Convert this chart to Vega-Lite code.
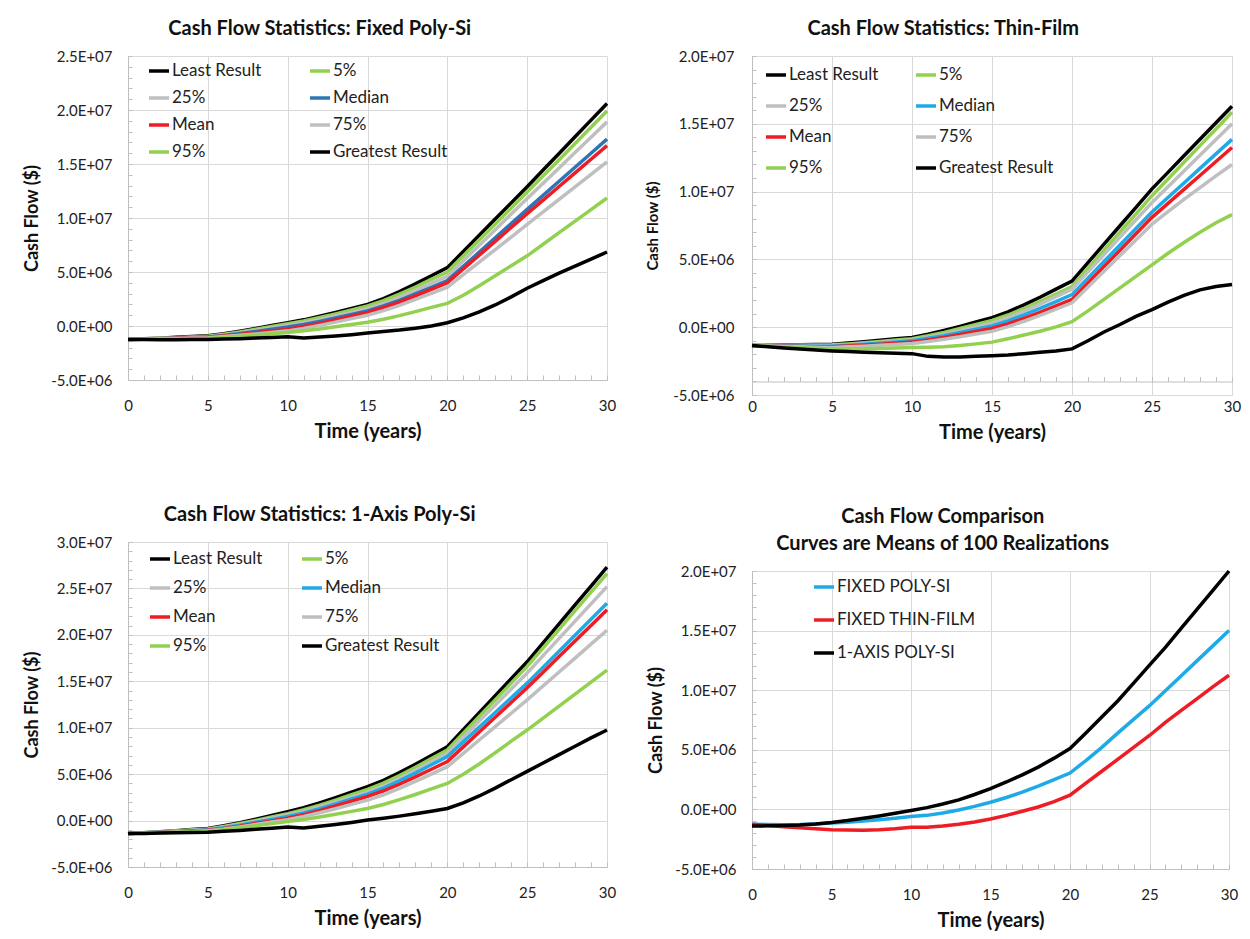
{
  "$schema": "https://vega.github.io/schema/vega-lite/v6.json",
  "background": "white",
  "padding": {"left": 23, "top": 19, "right": 5, "bottom": 5},
  "spacing": 29,
  "resolve": {"scale": {"color": "independent"}},
  "config": {
    "font": "Lato",
    "view": {"stroke": null},
    "axis": {"labelFont": "Lato", "labelFontSize": 15, "labelColor": "#222", "titleFont": "Lato", "titleFontWeight": "bold", "titleColor": "#111", "gridColor": "#d9d9d9", "domainColor": "#bfbfbf", "tickColor": "#bfbfbf", "labelOverlap": false, "labelFlush": false, "labelBound": false},
    "title": {"font": "Lato", "fontSize": 20, "fontWeight": "bold", "color": "#111", "frame": "bounds", "anchor": "middle", "offset": 10},
    "legend": {"labelFont": "Lato", "labelFontSize": 17, "labelColor": "#222", "symbolType": "stroke", "symbolStrokeWidth": 4, "symbolSize": 400, "labelOffset": 1, "orient": "none", "title": null, "direction": "horizontal"},
    "line": {"strokeWidth": 3.5}
  },
  "datasets": {
    "tl": [
      {"t":0,"Least Result":-1.25e6,"5%":-1.25e6,"25%":-1.25e6,"Median":-1.25e6,"Mean":-1.25e6,"75%":-1.25e6,"95%":-1.25e6,"Greatest Result":-1.25e6},
      {"t":1,"Least Result":-1.19e6,"5%":-1.20e6,"25%":-1.21e6,"Median":-1.21e6,"Mean":-1.22e6,"75%":-1.22e6,"95%":-1.23e6,"Greatest Result":-1.26e6},
      {"t":2,"Least Result":-1.13e6,"5%":-1.145e6,"25%":-1.16e6,"Median":-1.17e6,"Mean":-1.18e6,"75%":-1.19e6,"95%":-1.215e6,"Greatest Result":-1.27e6},
      {"t":3,"Least Result":-1.05e6,"5%":-1.08e6,"25%":-1.11e6,"Median":-1.12e6,"Mean":-1.14e6,"75%":-1.155e6,"95%":-1.195e6,"Greatest Result":-1.27e6},
      {"t":4,"Least Result":-0.98e6,"5%":-1.02e6,"25%":-1.055e6,"Median":-1.07e6,"Mean":-1.09e6,"75%":-1.12e6,"95%":-1.17e6,"Greatest Result":-1.26e6},
      {"t":5,"Least Result":-0.9e6,"5%":-0.95e6,"25%":-1.0e6,"Median":-1.02e6,"Mean":-1.05e6,"75%":-1.08e6,"95%":-1.15e6,"Greatest Result":-1.25e6},
      {"t":6,"Least Result":-0.71e6,"5%":-0.77e6,"25%":-0.83e6,"Median":-0.87e6,"Mean":-0.93e6,"75%":-0.98e6,"95%":-1.06e6,"Greatest Result":-1.21e6},
      {"t":7,"Least Result":-0.48e6,"5%":-0.55e6,"25%":-0.63e6,"Median":-0.70e6,"Mean":-0.79e6,"75%":-0.86e6,"95%":-0.96e6,"Greatest Result":-1.17e6},
      {"t":8,"Least Result":-0.23e6,"5%":-0.31e6,"25%":-0.41e6,"Median":-0.50e6,"Mean":-0.63e6,"75%":-0.73e6,"95%":-0.84e6,"Greatest Result":-1.12e6},
      {"t":9,"Least Result":0.04e6,"5%":-0.05e6,"25%":-0.18e6,"Median":-0.30e6,"Mean":-0.47e6,"75%":-0.59e6,"95%":-0.72e6,"Greatest Result":-1.06e6},
      {"t":10,"Least Result":0.3e6,"5%":0.2e6,"25%":0.05e6,"Median":-0.1e6,"Mean":-0.3e6,"75%":-0.45e6,"95%":-0.6e6,"Greatest Result":-1.0e6},
      {"t":11,"Least Result":0.57e6,"5%":0.46e6,"25%":0.30e6,"Median":0.14e6,"Mean":-0.05e6,"75%":-0.22e6,"95%":-0.45e6,"Greatest Result":-1.12e6},
      {"t":12,"Least Result":0.90e6,"5%":0.78e6,"25%":0.59e6,"Median":0.43e6,"Mean":0.24e6,"75%":0.06e6,"95%":-0.27e6,"Greatest Result":-1.02e6},
      {"t":13,"Least Result":1.25e6,"5%":1.12e6,"25%":0.92e6,"Median":0.74e6,"Mean":0.57e6,"75%":0.36e6,"95%":-0.07e6,"Greatest Result":-0.92e6},
      {"t":14,"Least Result":1.63e6,"5%":1.49e6,"25%":1.26e6,"Median":1.07e6,"Mean":0.91e6,"75%":0.68e6,"95%":0.14e6,"Greatest Result":-0.8e6},
      {"t":15,"Least Result":2.0e6,"5%":1.85e6,"25%":1.6e6,"Median":1.4e6,"Mean":1.25e6,"75%":1.0e6,"95%":0.35e6,"Greatest Result":-0.65e6},
      {"t":16,"Least Result":2.54e6,"5%":2.35e6,"25%":2.08e6,"Median":1.85e6,"Mean":1.69e6,"75%":1.42e6,"95%":0.63e6,"Greatest Result":-0.52e6},
      {"t":17,"Least Result":3.19e6,"5%":2.95e6,"25%":2.65e6,"Median":2.38e6,"Mean":2.21e6,"75%":1.91e6,"95%":0.96e6,"Greatest Result":-0.38e6},
      {"t":18,"Least Result":3.90e6,"5%":3.61e6,"25%":3.28e6,"Median":2.97e6,"Mean":2.79e6,"75%":2.46e6,"95%":1.33e6,"Greatest Result":-0.2e6},
      {"t":19,"Least Result":4.65e6,"5%":4.31e6,"25%":3.94e6,"Median":3.58e6,"Mean":3.40e6,"75%":3.03e6,"95%":1.72e6,"Greatest Result":0.0},
      {"t":20,"Least Result":5.4e6,"5%":5.0e6,"25%":4.6e6,"Median":4.2e6,"Mean":4.0e6,"75%":3.6e6,"95%":2.1e6,"Greatest Result":0.3e6},
      {"t":21,"Least Result":6.9e6,"5%":6.48e6,"25%":6.04e6,"Median":5.52e6,"Mean":5.28e6,"75%":4.76e6,"95%":2.85e6,"Greatest Result":0.75e6},
      {"t":22,"Least Result":8.4e6,"5%":7.96e6,"25%":7.48e6,"Median":6.84e6,"Mean":6.56e6,"75%":5.92e6,"95%":3.73e6,"Greatest Result":1.3e6},
      {"t":23,"Least Result":9.9e6,"5%":9.44e6,"25%":8.92e6,"Median":8.16e6,"Mean":7.84e6,"75%":7.08e6,"95%":4.65e6,"Greatest Result":1.95e6},
      {"t":24,"Least Result":11.4e6,"5%":10.92e6,"25%":10.36e6,"Median":9.48e6,"Mean":9.12e6,"75%":8.24e6,"95%":5.58e6,"Greatest Result":2.7e6},
      {"t":25,"Least Result":12.9e6,"5%":12.4e6,"25%":11.8e6,"Median":10.8e6,"Mean":10.4e6,"75%":9.4e6,"95%":6.5e6,"Greatest Result":3.5e6},
      {"t":26,"Least Result":14.44e6,"5%":13.9e6,"25%":13.22e6,"Median":12.1e6,"Mean":11.66e6,"75%":10.56e6,"95%":7.57e6,"Greatest Result":4.2e6},
      {"t":27,"Least Result":15.98e6,"5%":15.4e6,"25%":14.64e6,"Median":13.4e6,"Mean":12.92e6,"75%":11.72e6,"95%":8.64e6,"Greatest Result":4.9e6},
      {"t":28,"Least Result":17.52e6,"5%":16.9e6,"25%":16.06e6,"Median":14.7e6,"Mean":14.18e6,"75%":12.88e6,"95%":9.71e6,"Greatest Result":5.55e6},
      {"t":29,"Least Result":19.06e6,"5%":18.4e6,"25%":17.48e6,"Median":16.0e6,"Mean":15.44e6,"75%":14.04e6,"95%":10.78e6,"Greatest Result":6.2e6},
      {"t":30,"Least Result":20.6e6,"5%":19.9e6,"25%":18.9e6,"Median":17.3e6,"Mean":16.7e6,"75%":15.2e6,"95%":11.85e6,"Greatest Result":6.85e6}
    ],
    "tr": [
      {"t":0,"Least Result":-1.35e6,"5%":-1.35e6,"25%":-1.35e6,"Median":-1.35e6,"Mean":-1.35e6,"75%":-1.35e6,"95%":-1.35e6,"Greatest Result":-1.35e6},
      {"t":1,"Least Result":-1.34e6,"5%":-1.34e6,"25%":-1.36e6,"Median":-1.37e6,"Mean":-1.38e6,"75%":-1.39e6,"95%":-1.41e6,"Greatest Result":-1.45e6},
      {"t":2,"Least Result":-1.32e6,"5%":-1.33e6,"25%":-1.37e6,"Median":-1.38e6,"Mean":-1.40e6,"75%":-1.42e6,"95%":-1.46e6,"Greatest Result":-1.53e6},
      {"t":3,"Least Result":-1.30e6,"5%":-1.32e6,"25%":-1.37e6,"Median":-1.39e6,"Mean":-1.42e6,"75%":-1.45e6,"95%":-1.51e6,"Greatest Result":-1.61e6},
      {"t":4,"Least Result":-1.27e6,"5%":-1.31e6,"25%":-1.36e6,"Median":-1.40e6,"Mean":-1.44e6,"75%":-1.48e6,"95%":-1.56e6,"Greatest Result":-1.68e6},
      {"t":5,"Least Result":-1.25e6,"5%":-1.30e6,"25%":-1.35e6,"Median":-1.40e6,"Mean":-1.45e6,"75%":-1.50e6,"95%":-1.60e6,"Greatest Result":-1.75e6},
      {"t":6,"Least Result":-1.17e6,"5%":-1.23e6,"25%":-1.29e6,"Median":-1.34e6,"Mean":-1.39e6,"75%":-1.45e6,"95%":-1.60e6,"Greatest Result":-1.80e6},
      {"t":7,"Least Result":-1.08e6,"5%":-1.14e6,"25%":-1.21e6,"Median":-1.26e6,"Mean":-1.33e6,"75%":-1.40e6,"95%":-1.59e6,"Greatest Result":-1.84e6},
      {"t":8,"Least Result":-0.97e6,"5%":-1.05e6,"25%":-1.13e6,"Median":-1.18e6,"Mean":-1.25e6,"75%":-1.33e6,"95%":-1.57e6,"Greatest Result":-1.88e6},
      {"t":9,"Least Result":-0.86e6,"5%":-0.95e6,"25%":-1.04e6,"Median":-1.09e6,"Mean":-1.18e6,"75%":-1.27e6,"95%":-1.54e6,"Greatest Result":-1.92e6},
      {"t":10,"Least Result":-0.75e6,"5%":-0.85e6,"25%":-0.95e6,"Median":-1.0e6,"Mean":-1.1e6,"75%":-1.2e6,"95%":-1.5e6,"Greatest Result":-1.95e6},
      {"t":11,"Least Result":-0.52e6,"5%":-0.63e6,"25%":-0.75e6,"Median":-0.82e6,"Mean":-0.94e6,"75%":-1.06e6,"95%":-1.48e6,"Greatest Result":-2.15e6},
      {"t":12,"Least Result":-0.24e6,"5%":-0.38e6,"25%":-0.51e6,"Median":-0.62e6,"Mean":-0.75e6,"75%":-0.89e6,"95%":-1.45e6,"Greatest Result":-2.2e6},
      {"t":13,"Least Result":0.06e6,"5%":-0.09e6,"25%":-0.25e6,"Median":-0.38e6,"Mean":-0.54e6,"75%":-0.70e6,"95%":-1.35e6,"Greatest Result":-2.2e6},
      {"t":14,"Least Result":0.38e6,"5%":0.20e6,"25%":0.03e6,"Median":-0.14e6,"Mean":-0.32e6,"75%":-0.50e6,"95%":-1.23e6,"Greatest Result":-2.15e6},
      {"t":15,"Least Result":0.7e6,"5%":0.5e6,"25%":0.3e6,"Median":0.1e6,"Mean":-0.1e6,"75%":-0.3e6,"95%":-1.1e6,"Greatest Result":-2.1e6},
      {"t":16,"Least Result":1.13e6,"5%":0.9e6,"25%":0.7e6,"Median":0.47e6,"Mean":0.24e6,"75%":0.04e6,"95%":-0.85e6,"Greatest Result":-2.05e6},
      {"t":17,"Least Result":1.65e6,"5%":1.38e6,"25%":1.18e6,"Median":0.91e6,"Mean":0.65e6,"75%":0.44e6,"95%":-0.58e6,"Greatest Result":-1.95e6},
      {"t":18,"Least Result":2.21e6,"5%":1.9e6,"25%":1.7e6,"Median":1.39e6,"Mean":1.1e6,"75%":0.88e6,"95%":-0.3e6,"Greatest Result":-1.85e6},
      {"t":19,"Least Result":2.81e6,"5%":2.45e6,"25%":2.25e6,"Median":1.89e6,"Mean":1.58e6,"75%":1.34e6,"95%":0.02e6,"Greatest Result":-1.75e6},
      {"t":20,"Least Result":3.4e6,"5%":3.0e6,"25%":2.8e6,"Median":2.4e6,"Mean":2.05e6,"75%":1.8e6,"95%":0.4e6,"Greatest Result":-1.6e6},
      {"t":21,"Least Result":4.76e6,"5%":4.34e6,"25%":4.08e6,"Median":3.62e6,"Mean":3.26e6,"75%":2.96e6,"95%":1.2e6,"Greatest Result":-1.0e6},
      {"t":22,"Least Result":6.12e6,"5%":5.68e6,"25%":5.36e6,"Median":4.84e6,"Mean":4.47e6,"75%":4.12e6,"95%":2.05e6,"Greatest Result":-0.35e6},
      {"t":23,"Least Result":7.48e6,"5%":7.02e6,"25%":6.64e6,"Median":6.06e6,"Mean":5.68e6,"75%":5.28e6,"95%":2.9e6,"Greatest Result":0.2e6},
      {"t":24,"Least Result":8.84e6,"5%":8.36e6,"25%":7.92e6,"Median":7.28e6,"Mean":6.89e6,"75%":6.44e6,"95%":3.75e6,"Greatest Result":0.8e6},
      {"t":25,"Least Result":10.2e6,"5%":9.7e6,"25%":9.2e6,"Median":8.5e6,"Mean":8.1e6,"75%":7.6e6,"95%":4.6e6,"Greatest Result":1.3e6},
      {"t":26,"Least Result":11.42e6,"5%":10.93e6,"25%":10.36e6,"Median":9.57e6,"Mean":9.13e6,"75%":8.52e6,"95%":5.45e6,"Greatest Result":1.85e6},
      {"t":27,"Least Result":12.64e6,"5%":12.16e6,"25%":11.52e6,"Median":10.64e6,"Mean":10.16e6,"75%":9.42e6,"95%":6.25e6,"Greatest Result":2.35e6},
      {"t":28,"Least Result":13.86e6,"5%":13.39e6,"25%":12.68e6,"Median":11.71e6,"Mean":11.19e6,"75%":10.3e6,"95%":7.0e6,"Greatest Result":2.75e6},
      {"t":29,"Least Result":15.08e6,"5%":14.62e6,"25%":13.84e6,"Median":12.78e6,"Mean":12.22e6,"75%":11.16e6,"95%":7.7e6,"Greatest Result":3.0e6},
      {"t":30,"Least Result":16.3e6,"5%":15.85e6,"25%":15.0e6,"Median":13.85e6,"Mean":13.25e6,"75%":12.0e6,"95%":8.3e6,"Greatest Result":3.15e6}
    ],
    "bl": [
      {"t":0,"Least Result":-1.4e6,"5%":-1.4e6,"25%":-1.4e6,"Median":-1.4e6,"Mean":-1.4e6,"75%":-1.4e6,"95%":-1.4e6,"Greatest Result":-1.4e6},
      {"t":1,"Least Result":-1.31e6,"5%":-1.32e6,"25%":-1.33e6,"Median":-1.34e6,"Mean":-1.34e6,"75%":-1.35e6,"95%":-1.36e6,"Greatest Result":-1.38e6},
      {"t":2,"Least Result":-1.21e6,"5%":-1.23e6,"25%":-1.24e6,"Median":-1.26e6,"Mean":-1.28e6,"75%":-1.30e6,"95%":-1.31e6,"Greatest Result":-1.35e6},
      {"t":3,"Least Result":-1.09e6,"5%":-1.12e6,"25%":-1.15e6,"Median":-1.18e6,"Mean":-1.20e6,"75%":-1.23e6,"95%":-1.26e6,"Greatest Result":-1.32e6},
      {"t":4,"Least Result":-0.97e6,"5%":-1.01e6,"25%":-1.05e6,"Median":-1.09e6,"Mean":-1.13e6,"75%":-1.17e6,"95%":-1.20e6,"Greatest Result":-1.29e6},
      {"t":5,"Least Result":-0.85e6,"5%":-0.9e6,"25%":-0.95e6,"Median":-1.0e6,"Mean":-1.05e6,"75%":-1.1e6,"95%":-1.15e6,"Greatest Result":-1.25e6},
      {"t":6,"Least Result":-0.56e6,"5%":-0.64e6,"25%":-0.70e6,"Median":-0.77e6,"Mean":-0.84e6,"75%":-0.91e6,"95%":-0.98e6,"Greatest Result":-1.16e6},
      {"t":7,"Least Result":-0.22e6,"5%":-0.32e6,"25%":-0.41e6,"Median":-0.49e6,"Mean":-0.60e6,"75%":-0.68e6,"95%":-0.78e6,"Greatest Result":-1.06e6},
      {"t":8,"Least Result":0.16e6,"5%":0.02e6,"25%":-0.08e6,"Median":-0.19e6,"Mean":-0.32e6,"75%":-0.43e6,"95%":-0.56e6,"Greatest Result":-0.94e6},
      {"t":9,"Least Result":0.55e6,"5%":0.39e6,"25%":0.26e6,"Median":0.13e6,"Mean":-0.04e6,"75%":-0.16e6,"95%":-0.33e6,"Greatest Result":-0.82e6},
      {"t":10,"Least Result":0.95e6,"5%":0.75e6,"25%":0.6e6,"Median":0.45e6,"Mean":0.25e6,"75%":0.1e6,"95%":-0.1e6,"Greatest Result":-0.7e6},
      {"t":11,"Least Result":1.38e6,"5%":1.17e6,"25%":0.99e6,"Median":0.83e6,"Mean":0.63e6,"75%":0.44e6,"95%":0.12e6,"Greatest Result":-0.8e6},
      {"t":12,"Least Result":1.9e6,"5%":1.66e6,"25%":1.46e6,"Median":1.29e6,"Mean":1.07e6,"75%":0.84e6,"95%":0.39e6,"Greatest Result":-0.62e6},
      {"t":13,"Least Result":2.46e6,"5%":2.21e6,"25%":1.97e6,"Median":1.79e6,"Mean":1.57e6,"75%":1.28e6,"95%":0.68e6,"Greatest Result":-0.42e6},
      {"t":14,"Least Result":3.06e6,"5%":2.78e6,"25%":2.51e6,"Median":2.32e6,"Mean":2.08e6,"75%":1.74e6,"95%":0.99e6,"Greatest Result":-0.2e6},
      {"t":15,"Least Result":3.65e6,"5%":3.35e6,"25%":3.05e6,"Median":2.85e6,"Mean":2.6e6,"75%":2.2e6,"95%":1.3e6,"Greatest Result":0.05e6},
      {"t":16,"Least Result":4.34e6,"5%":4.03e6,"25%":3.72e6,"Median":3.5e6,"Mean":3.2e6,"75%":2.78e6,"95%":1.73e6,"Greatest Result":0.25e6},
      {"t":17,"Least Result":5.16e6,"5%":4.84e6,"25%":4.52e6,"Median":4.27e6,"Mean":3.91e6,"75%":3.46e6,"95%":2.25e6,"Greatest Result":0.48e6},
      {"t":18,"Least Result":6.06e6,"5%":5.73e6,"25%":5.40e6,"Median":5.12e6,"Mean":4.7e6,"75%":4.22e6,"95%":2.81e6,"Greatest Result":0.73e6},
      {"t":19,"Least Result":7.0e6,"5%":6.67e6,"25%":6.33e6,"Median":6.01e6,"Mean":5.53e6,"75%":5.01e6,"95%":3.41e6,"Greatest Result":1.0e6},
      {"t":20,"Least Result":7.95e6,"5%":7.6e6,"25%":7.25e6,"Median":6.9e6,"Mean":6.35e6,"75%":5.8e6,"95%":4.0e6,"Greatest Result":1.3e6},
      {"t":21,"Least Result":9.78e6,"5%":9.4e6,"25%":8.98e6,"Median":8.48e6,"Mean":7.94e6,"75%":7.24e6,"95%":5.0e6,"Greatest Result":1.9e6},
      {"t":22,"Least Result":11.61e6,"5%":11.2e6,"25%":10.71e6,"Median":10.06e6,"Mean":9.53e6,"75%":8.68e6,"95%":6.1e6,"Greatest Result":2.65e6},
      {"t":23,"Least Result":13.44e6,"5%":13.0e6,"25%":12.44e6,"Median":11.64e6,"Mean":11.12e6,"75%":10.12e6,"95%":7.3e6,"Greatest Result":3.5e6},
      {"t":24,"Least Result":15.27e6,"5%":14.8e6,"25%":14.17e6,"Median":13.22e6,"Mean":12.71e6,"75%":11.56e6,"95%":8.55e6,"Greatest Result":4.4e6},
      {"t":25,"Least Result":17.1e6,"5%":16.6e6,"25%":15.9e6,"Median":14.8e6,"Mean":14.3e6,"75%":13.0e6,"95%":9.75e6,"Greatest Result":5.3e6},
      {"t":26,"Least Result":19.14e6,"5%":18.6e6,"25%":17.76e6,"Median":16.52e6,"Mean":15.98e6,"75%":14.5e6,"95%":11.04e6,"Greatest Result":6.2e6},
      {"t":27,"Least Result":21.18e6,"5%":20.6e6,"25%":19.62e6,"Median":18.24e6,"Mean":17.66e6,"75%":16.0e6,"95%":12.33e6,"Greatest Result":7.1e6},
      {"t":28,"Least Result":23.22e6,"5%":22.6e6,"25%":21.48e6,"Median":19.96e6,"Mean":19.34e6,"75%":17.5e6,"95%":13.62e6,"Greatest Result":8.0e6},
      {"t":29,"Least Result":25.26e6,"5%":24.6e6,"25%":23.34e6,"Median":21.68e6,"Mean":21.02e6,"75%":19.0e6,"95%":14.91e6,"Greatest Result":8.9e6},
      {"t":30,"Least Result":27.3e6,"5%":26.6e6,"25%":25.2e6,"Median":23.4e6,"Mean":22.7e6,"75%":20.5e6,"95%":16.2e6,"Greatest Result":9.75e6}
    ],
    "br": [
      {"t":0,"FIXED POLY-SI":-1.25e6,"FIXED THIN-FILM":-1.25e6,"1-AXIS POLY-SI":-1.4e6},
      {"t":1,"FIXED POLY-SI":-1.27e6,"FIXED THIN-FILM":-1.35e6,"1-AXIS POLY-SI":-1.38e6},
      {"t":2,"FIXED POLY-SI":-1.28e6,"FIXED THIN-FILM":-1.45e6,"1-AXIS POLY-SI":-1.35e6},
      {"t":3,"FIXED POLY-SI":-1.27e6,"FIXED THIN-FILM":-1.55e6,"1-AXIS POLY-SI":-1.3e6},
      {"t":4,"FIXED POLY-SI":-1.22e6,"FIXED THIN-FILM":-1.63e6,"1-AXIS POLY-SI":-1.22e6},
      {"t":5,"FIXED POLY-SI":-1.15e6,"FIXED THIN-FILM":-1.7e6,"1-AXIS POLY-SI":-1.1e6},
      {"t":6,"FIXED POLY-SI":-1.07e6,"FIXED THIN-FILM":-1.73e6,"1-AXIS POLY-SI":-0.94e6},
      {"t":7,"FIXED POLY-SI":-0.97e6,"FIXED THIN-FILM":-1.74e6,"1-AXIS POLY-SI":-0.75e6},
      {"t":8,"FIXED POLY-SI":-0.86e6,"FIXED THIN-FILM":-1.7e6,"1-AXIS POLY-SI":-0.55e6},
      {"t":9,"FIXED POLY-SI":-0.74e6,"FIXED THIN-FILM":-1.62e6,"1-AXIS POLY-SI":-0.33e6},
      {"t":10,"FIXED POLY-SI":-0.6e6,"FIXED THIN-FILM":-1.5e6,"1-AXIS POLY-SI":-0.1e6},
      {"t":11,"FIXED POLY-SI":-0.5e6,"FIXED THIN-FILM":-1.5e6,"1-AXIS POLY-SI":0.15e6},
      {"t":12,"FIXED POLY-SI":-0.3e6,"FIXED THIN-FILM":-1.4e6,"1-AXIS POLY-SI":0.45e6},
      {"t":13,"FIXED POLY-SI":-0.05e6,"FIXED THIN-FILM":-1.25e6,"1-AXIS POLY-SI":0.8e6},
      {"t":14,"FIXED POLY-SI":0.25e6,"FIXED THIN-FILM":-1.05e6,"1-AXIS POLY-SI":1.25e6},
      {"t":15,"FIXED POLY-SI":0.6e6,"FIXED THIN-FILM":-0.8e6,"1-AXIS POLY-SI":1.75e6},
      {"t":16,"FIXED POLY-SI":1.0e6,"FIXED THIN-FILM":-0.5e6,"1-AXIS POLY-SI":2.3e6},
      {"t":17,"FIXED POLY-SI":1.45e6,"FIXED THIN-FILM":-0.15e6,"1-AXIS POLY-SI":2.9e6},
      {"t":18,"FIXED POLY-SI":1.95e6,"FIXED THIN-FILM":0.2e6,"1-AXIS POLY-SI":3.55e6},
      {"t":19,"FIXED POLY-SI":2.5e6,"FIXED THIN-FILM":0.65e6,"1-AXIS POLY-SI":4.3e6},
      {"t":20,"FIXED POLY-SI":3.05e6,"FIXED THIN-FILM":1.2e6,"1-AXIS POLY-SI":5.1e6},
      {"t":21,"FIXED POLY-SI":4.1e6,"FIXED THIN-FILM":2.2e6,"1-AXIS POLY-SI":6.4e6},
      {"t":22,"FIXED POLY-SI":5.2e6,"FIXED THIN-FILM":3.2e6,"1-AXIS POLY-SI":7.75e6},
      {"t":23,"FIXED POLY-SI":6.4e6,"FIXED THIN-FILM":4.2e6,"1-AXIS POLY-SI":9.1e6},
      {"t":24,"FIXED POLY-SI":7.55e6,"FIXED THIN-FILM":5.2e6,"1-AXIS POLY-SI":10.6e6},
      {"t":25,"FIXED POLY-SI":8.7e6,"FIXED THIN-FILM":6.2e6,"1-AXIS POLY-SI":12.1e6},
      {"t":26,"FIXED POLY-SI":9.96e6,"FIXED THIN-FILM":7.3e6,"1-AXIS POLY-SI":13.6e6},
      {"t":27,"FIXED POLY-SI":11.22e6,"FIXED THIN-FILM":8.3e6,"1-AXIS POLY-SI":15.2e6},
      {"t":28,"FIXED POLY-SI":12.48e6,"FIXED THIN-FILM":9.3e6,"1-AXIS POLY-SI":16.8e6},
      {"t":29,"FIXED POLY-SI":13.74e6,"FIXED THIN-FILM":10.3e6,"1-AXIS POLY-SI":18.4e6},
      {"t":30,"FIXED POLY-SI":15.0e6,"FIXED THIN-FILM":11.25e6,"1-AXIS POLY-SI":20.0e6}
    ]
  },
  "hconcat": [
    {
      "spacing": 64,
      "resolve": {"scale": {"color": "independent"}},
      "vconcat": [
        {
          "title": {"text": "Cash Flow Statistics: Fixed Poly-Si"},
          "width": 479, "height": 324,
          "data": {"name": "tl"},
          "transform": [{"fold": ["Least Result","5%","25%","Median","Mean","75%","95%","Greatest Result"], "as": ["series","value"]}],
          "mark": {"type": "line"},
          "encoding": {
            "x": {"field": "t", "type": "quantitative", "scale": {"domain": [0,30], "nice": false},
              "axis": {"title": "Time (years)", "titleFontSize": 20, "titlePadding": 8, "values": [0,1,2,3,4,5,6,7,8,9,10,11,12,13,14,15,16,17,18,19,20,21,22,23,24,25,26,27,28,29,30], "labelExpr": "datum.value % 5 === 0 ? datum.label : ''", "gridOpacity": {"condition": {"test": "datum.value % 5 === 0", "value": 1}, "value": 0}, "tickSize": -5, "labelPadding": 23}},
            "y": {"field": "value", "type": "quantitative", "scale": {"domain": [-5000000, 25000000], "nice": false, "zero": false},
              "axis": {"title": "Cash Flow ($)", "titleFontSize": 18, "titlePadding": 9, "values": [-5e6,-4e6,-3e6,-2e6,-1e6,0,1e6,2e6,3e6,4e6,5e6,6e6,7e6,8e6,9e6,10e6,11e6,12e6,13e6,14e6,15e6,16e6,17e6,18e6,19e6,20e6,21e6,22e6,23e6,24e6,25e6], "labelExpr": "datum.value % 5000000 === 0 ? replace(replace(format(datum.value, '.1e'), 'e+', 'E+0'), '\u2212', '-') : ''", "gridOpacity": {"condition": {"test": "datum.value % 5000000 === 0", "value": 1}, "value": 0}, "tickSize": -4, "labelPadding": 20}},
            "color": {"field": "series", "type": "nominal",
              "scale": {"domain": ["Least Result","5%","25%","Median","Mean","75%","95%","Greatest Result"], "range": ["#000000","#92d050","#bfbfbf","#2e75b6","#ee1c24","#bfbfbf","#92d050","#000000"]},
              "legend": {"legendX": 19, "legendY": 3, "columns": 2, "rowPadding": 7, "columnPadding": 41}}
          }
        },
        {
          "title": {"text": "Cash Flow Statistics: 1-Axis Poly-Si"},
          "width": 479, "height": 325,
          "data": {"name": "bl"},
          "transform": [{"fold": ["Least Result","5%","25%","Median","Mean","75%","95%","Greatest Result"], "as": ["series","value"]}],
          "mark": {"type": "line"},
          "encoding": {
            "x": {"field": "t", "type": "quantitative", "scale": {"domain": [0,30], "nice": false},
              "axis": {"title": "Time (years)", "titleFontSize": 20, "titlePadding": 8, "values": [0,1,2,3,4,5,6,7,8,9,10,11,12,13,14,15,16,17,18,19,20,21,22,23,24,25,26,27,28,29,30], "labelExpr": "datum.value % 5 === 0 ? datum.label : ''", "gridOpacity": {"condition": {"test": "datum.value % 5 === 0", "value": 1}, "value": 0}, "tickSize": -5, "labelPadding": 23}},
            "y": {"field": "value", "type": "quantitative", "scale": {"domain": [-5000000, 30000000], "nice": false, "zero": false},
              "axis": {"title": "Cash Flow ($)", "titleFontSize": 18, "titlePadding": 9, "values": [-5e6,-4e6,-3e6,-2e6,-1e6,0,1e6,2e6,3e6,4e6,5e6,6e6,7e6,8e6,9e6,10e6,11e6,12e6,13e6,14e6,15e6,16e6,17e6,18e6,19e6,20e6,21e6,22e6,23e6,24e6,25e6,26e6,27e6,28e6,29e6,30e6], "labelExpr": "datum.value % 5000000 === 0 ? replace(replace(format(datum.value, '.1e'), 'e+', 'E+0'), '\u2212', '-') : ''", "gridOpacity": {"condition": {"test": "datum.value % 5000000 === 0", "value": 1}, "value": 0}, "tickSize": -4, "labelPadding": 20}},
            "color": {"field": "series", "type": "nominal",
              "scale": {"domain": ["Least Result","5%","25%","Median","Mean","75%","95%","Greatest Result"], "range": ["#000000","#92d050","#bfbfbf","#1eaae6","#ee1c24","#bfbfbf","#92d050","#000000"]},
              "legend": {"legendX": 20, "legendY": 5, "columns": 2, "rowPadding": 9, "columnPadding": 32}}
          }
        }
      ]
    },
    {
      "spacing": 64,
      "resolve": {"scale": {"color": "independent"}},
      "vconcat": [
        {
          "title": {"text": "Cash Flow Statistics: Thin-Film"},
          "width": 480, "height": 339,
          "data": {"name": "tr"},
          "transform": [{"fold": ["Least Result","5%","25%","Median","Mean","75%","95%","Greatest Result"], "as": ["series","value"]}],
          "mark": {"type": "line"},
          "encoding": {
            "x": {"field": "t", "type": "quantitative", "scale": {"domain": [0,30], "nice": false},
              "axis": {"title": "Time (years)", "titleFontSize": 20, "titlePadding": 8, "offset": -13.5, "values": [0,1,2,3,4,5,6,7,8,9,10,11,12,13,14,15,16,17,18,19,20,21,22,23,24,25,26,27,28,29,30], "labelExpr": "datum.value % 5 === 0 ? datum.label : ''", "gridOpacity": {"condition": {"test": "datum.value % 5 === 0", "value": 1}, "value": 0}, "tickSize": -5, "labelPadding": 23}},
            "y": {"field": "value", "type": "quantitative", "scale": {"domain": [-5000000, 20000000], "nice": false, "zero": false},
              "axis": {"title": "Cash Flow ($)", "titleFontSize": 15, "titlePadding": 12, "values": [-5e6,-4e6,-3e6,-2e6,-1e6,0,1e6,2e6,3e6,4e6,5e6,6e6,7e6,8e6,9e6,10e6,11e6,12e6,13e6,14e6,15e6,16e6,17e6,18e6,19e6,20e6], "labelExpr": "datum.value % 5000000 === 0 ? replace(replace(format(datum.value, '.1e'), 'e+', 'E+0'), '\u2212', '-') : ''", "gridOpacity": {"condition": {"test": "datum.value % 5000000 === 0", "value": 1}, "value": 0}, "tickSize": -4, "labelPadding": 22}},
            "color": {"field": "series", "type": "nominal",
              "scale": {"domain": ["Least Result","5%","25%","Median","Mean","75%","95%","Greatest Result"], "range": ["#000000","#92d050","#bfbfbf","#1eaae6","#ee1c24","#bfbfbf","#92d050","#000000"]},
              "legend": {"legendX": 12, "legendY": 7, "columns": 2, "rowPadding": 11, "columnPadding": 30}}
          }
        },
        {
          "title": {"text": ["Cash Flow Comparison", "Curves are Means of 100 Realizations"], "lineHeight": 27},
          "width": 477, "height": 298,
          "data": {"name": "br"},
          "transform": [{"fold": ["FIXED POLY-SI","FIXED THIN-FILM","1-AXIS POLY-SI"], "as": ["series","value"]}],
          "mark": {"type": "line"},
          "encoding": {
            "x": {"field": "t", "type": "quantitative", "scale": {"domain": [0,30], "nice": false},
              "axis": {"title": "Time (years)", "titleFontSize": 20, "titlePadding": 8, "values": [0,1,2,3,4,5,6,7,8,9,10,11,12,13,14,15,16,17,18,19,20,21,22,23,24,25,26,27,28,29,30], "labelExpr": "datum.value % 5 === 0 ? datum.label : ''", "gridOpacity": {"condition": {"test": "datum.value % 5 === 0", "value": 1}, "value": 0}, "tickSize": -5, "labelPadding": 23}},
            "y": {"field": "value", "type": "quantitative", "scale": {"domain": [-5000000, 20000000], "nice": false, "zero": false},
              "axis": {"title": "Cash Flow ($)", "titleFontSize": 18, "titlePadding": 9, "values": [-5e6,-4e6,-3e6,-2e6,-1e6,0,1e6,2e6,3e6,4e6,5e6,6e6,7e6,8e6,9e6,10e6,11e6,12e6,13e6,14e6,15e6,16e6,17e6,18e6,19e6,20e6], "labelExpr": "datum.value % 5000000 === 0 ? replace(replace(format(datum.value, '.1e'), 'e+', 'E+0'), '\u2212', '-') : ''", "gridOpacity": {"condition": {"test": "datum.value % 5000000 === 0", "value": 1}, "value": 0}, "tickSize": -4, "labelPadding": 20}},
            "color": {"field": "series", "type": "nominal",
              "scale": {"domain": ["FIXED POLY-SI","FIXED THIN-FILM","1-AXIS POLY-SI"], "range": ["#1eaae6","#ee1c24","#000000"]},
              "legend": {"legendX": 60, "legendY": 4, "columns": 1, "rowPadding": 13, "direction": "vertical"}}
          }
        }
      ]
    }
  ]
}
